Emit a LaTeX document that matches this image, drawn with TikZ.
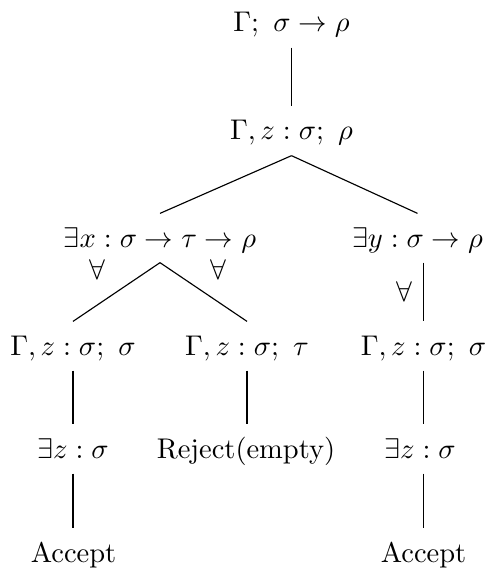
\documentclass[tikz,border=0pt]{standalone}
\begin{document}
\begin{tikzpicture}[x=0.351pt,y=-0.351pt,
  tn/.style={anchor=base,inner sep=1.4pt,text height=10.2pt,text depth=3.9pt},
  lbl/.style={inner sep=0pt},
  edge/.style={draw=black,line width=0.4pt}]
\useasboundingbox (0,0) rectangle (491,568);
\node[tn] (r)  at (291.5,32)  {$\Gamma;\ \sigma \to \rho$};
\node[tn] (n2) at (291.5,140)   {$\Gamma, z:\sigma;\ \rho$};
\node[tn] (ex) at (160,247)   {$\exists x:\sigma\to\tau\to\rho$};
\node[tn] (ey) at (417.5,247) {$\exists y:\sigma\to\rho$};
\node[tn] (a4) at (73,355)  {$\Gamma, z:\sigma;\ \sigma$};
\node[tn] (b4) at (247,355)   {$\Gamma, z:\sigma;\ \tau$};
\node[tn] (c4) at (423.5,355)   {$\Gamma, z:\sigma;\ \sigma$};
\node[tn] (a5) at (73,458)  {$\exists z:\sigma$};
\node[tn] (b5) at (246,458)   {Reject(empty)};
\node[tn] (c5) at (420,458)   {$\exists z:\sigma$};
\node[tn] (a6) at (73.5,562)  {Accept};
\node[tn] (c6) at (423.5,562) {Accept};
\node[lbl] (f1) at (97,270)  {$\forall$};
\node[lbl] (f2) at (218,270) {$\forall$};
\node[lbl] (f3) at (404,292) {$\forall$};
\draw[edge] (r.south) -- (n2.north);
\draw[edge] (n2.south) -- (ex.north);
\draw[edge] (n2.south) -- (ey.north);
\draw[edge] (ex.south) -- (a4.north);
\draw[edge] (ex.south) -- (b4.north);
\draw[edge] (ey.south -| c4.north) -- (c4.north);
\draw[edge] (a4.south) -- (a5.north -| a4.south);
\draw[edge] (b4.south) -- (b5.north -| b4.south);
\draw[edge] (c4.south) -- (c5.north -| c4.south);
\draw[edge] (a5.south -| a4.south) -- (a6.north -| a4.south);
\draw[edge] (c5.south -| c4.south) -- (c6.north -| c4.south);
\end{tikzpicture}
\end{document}
